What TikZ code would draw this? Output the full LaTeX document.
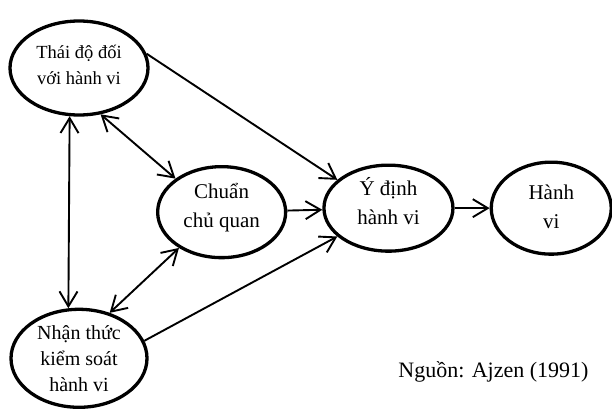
\documentclass[tikz,border=0pt]{standalone}
\usepackage{fontspec}
\setmainfont{Liberation Serif}
\usetikzlibrary{shapes.geometric, arrows.meta, positioning, calc}

\begin{document}
\begin{tikzpicture}[
    x=1pt, y=1pt,
    concept/.style={ellipse, draw, line width=3.3pt, inner sep=0pt, align=center, font=\fontsize{21}{29}\selectfont},
    arrow/.style={-{Straight Barb[length=15pt, width=18pt]}, line width=1.9pt},
    dblarrow/.style={{Straight Barb[length=15pt, width=18pt]}-{Straight Barb[length=15pt, width=18pt]}, line width=1.9pt}
]
\useasboundingbox (0,0) rectangle (612,-409);

\node[concept, minimum width=138pt, minimum height=94pt, font=\fontsize{18.5}{26}\selectfont, text height=35pt, text depth=2pt] (attitude) at (79,-68) {Thái độ đối\\với hành vi};
\node[concept, minimum width=136pt, minimum height=98pt, font=\fontsize{20}{26}\selectfont, text height=66pt, text depth=0pt, below=191pt of attitude] (control) {Nhận thức\\kiểm soát\\hành vi};
\coordinate (mid) at ($(attitude)!0.5!(control)$);
\node[concept, minimum width=128pt, minimum height=91pt, text height=32pt, text depth=2pt, right=77pt of mid, yshift=1pt] (norm) {Chuẩn\\chủ quan};
\node[concept, minimum width=129pt, minimum height=86pt, text height=33pt, text depth=0pt, right=35pt of norm, yshift=4pt] (intention) {Ý định\\hành vi};
\node[concept, minimum width=120pt, minimum height=92pt, text height=40pt, text depth=0pt, right=35pt of intention] (behavior) {Hành\\vi};
\node[anchor=east, font=\fontsize{22}{26}\selectfont] (source) at (592,-372) {Nguồn: Ajzen (1991)};

\draw[arrow] (attitude.12) -- (intention.151);
\draw[dblarrow] (attitude.-65) -- (norm.144);
\draw[dblarrow] (attitude.259) -- (control.102);
\draw[dblarrow] (control.56) -- (norm.220);
\draw[arrow] (norm) -- (intention);
\draw[arrow] (control.15) -- (intention.209);
\draw[arrow] (intention) -- (behavior);

\end{tikzpicture}
\end{document}
